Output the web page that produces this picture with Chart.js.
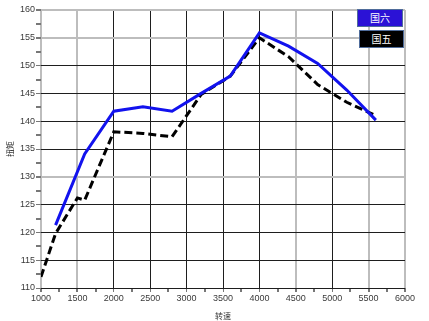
<!DOCTYPE html>
<html><head><meta charset="utf-8">
<script src="https://cdn.jsdelivr.net/npm/chart.js@4/dist/chart.umd.min.js"></script>
<style>
html,body{margin:0;padding:0;background:#fff;}
#wrap{position:relative;width:429px;height:321px;}
canvas{display:block;}
.lg{position:absolute;box-sizing:border-box;height:18px;color:#fff;font:10px "Noto Sans CJK SC",sans-serif;line-height:16px;text-align:center;border:1px solid #4f6c9a;}
</style></head>
<body>
<div id="wrap"><canvas id="c" width="429" height="321"></canvas></div>
<script>
const seriesNames = ['国六', '国五'];
const rpm6 = [1200, 1600, 2000, 2400, 2800, 3200, 3600, 4000, 4400, 4800, 5200, 5600];
const torque6 = [121.3, 134.1, 141.8, 142.6, 141.8, 145.0, 148.1, 155.9, 153.5, 150.4, 145.6, 140.2];
const rpm5 = [1000, 1200, 1500, 1600, 2000, 2400, 2800, 3200, 3600, 4000, 4400, 4800, 5200, 5600];
const torque5 = [112.0, 119.8, 126.2, 125.8, 138.1, 137.8, 137.2, 144.8, 148.1, 155.0, 151.6, 146.6, 143.4, 141.0];
const xTitle = '转速';
const yTitle = '扭矩';
const legendColors = ['#2b12d6', '#000000'];

const darkX = [2000, 2500, 3000, 3500, 4000, 5000];
const darkY = [150, 145, 140, 135, 125, 120, 115, 110];

const toPts = (xs, ys) => xs.map((x, i) => ({x: x, y: ys[i]}));

new Chart(document.getElementById('c'), {
  type: 'line',
  data: {
    datasets: [
      {label: seriesNames[0], data: toPts(rpm6, torque6), borderColor: '#1212ee', borderWidth: 3, pointRadius: 0, fill: false, tension: 0},
      {label: seriesNames[1], data: toPts(rpm5, torque5), borderColor: '#000000', borderWidth: 3, borderDash: [8, 4], pointRadius: 0, fill: false, tension: 0}
    ]
  },
  options: {
    responsive: false,
    animation: false,
    layout: {padding: {left: 5, right: 24, top: 10, bottom: 0}},
    plugins: {legend: {display: false}, tooltip: {enabled: false}},
    scales: {
      x: {
        type: 'linear', min: 1000, max: 6000,
        afterFit: s => { s.height = 33; },
        border: {display: false},
        ticks: {
          stepSize: 250, autoSkip: false, maxRotation: 0, padding: 1,
          color: '#3a3a3a', font: {family: 'Liberation Sans', size: 9},
          callback: v => (v % 500 === 0 ? String(v) : '')
        },
        grid: {
          tickLength: 4,
          tickColor: '#777',
          lineWidth: ctx => (ctx.tick && darkX.includes(ctx.tick.value) ? 1 : 2),
          color: ctx => {
            const v = ctx.tick ? ctx.tick.value : 0;
            if (v % 500 !== 0) return 'rgba(0,0,0,0)';
            return darkX.includes(v) ? '#1e1e1e' : '#bdbdbd';
          }
        },
        title: {display: true, text: xTitle, color: '#333', padding: 0, font: {family: 'Noto Sans CJK SC', size: 8}}
      },
      y: {
        type: 'linear', min: 110, max: 160,
        afterFit: s => { s.width = 36; },
        border: {display: false},
        ticks: {
          stepSize: 2.5, autoSkip: false, padding: 1,
          color: '#3a3a3a', font: {family: 'Liberation Sans', size: 9},
          callback: v => (v % 5 === 0 ? String(v) : '')
        },
        grid: {
          tickLength: 5,
          tickColor: '#777',
          lineWidth: ctx => (ctx.tick && darkY.includes(ctx.tick.value) ? 1 : 2),
          color: ctx => {
            const v = ctx.tick ? ctx.tick.value : 0;
            if (v % 5 !== 0) return 'rgba(0,0,0,0)';
            return darkY.includes(v) ? '#1e1e1e' : '#bdbdbd';
          }
        },
        title: {display: true, text: yTitle, color: '#333', padding: 0, font: {family: 'Noto Sans CJK SC', size: 8}}
      }
    }
  }
});

const wrap = document.getElementById('wrap');
const lgPos = [{left: 357, top: 9, w: 46}, {left: 359, top: 30, w: 45}];
seriesNames.forEach((n, i) => {
  const d = document.createElement('div');
  d.className = 'lg';
  d.textContent = n;
  d.style.left = lgPos[i].left + 'px';
  d.style.top = lgPos[i].top + 'px';
  d.style.width = lgPos[i].w + 'px';
  d.style.background = legendColors[i];
  wrap.appendChild(d);
});
</script>
</body></html>
